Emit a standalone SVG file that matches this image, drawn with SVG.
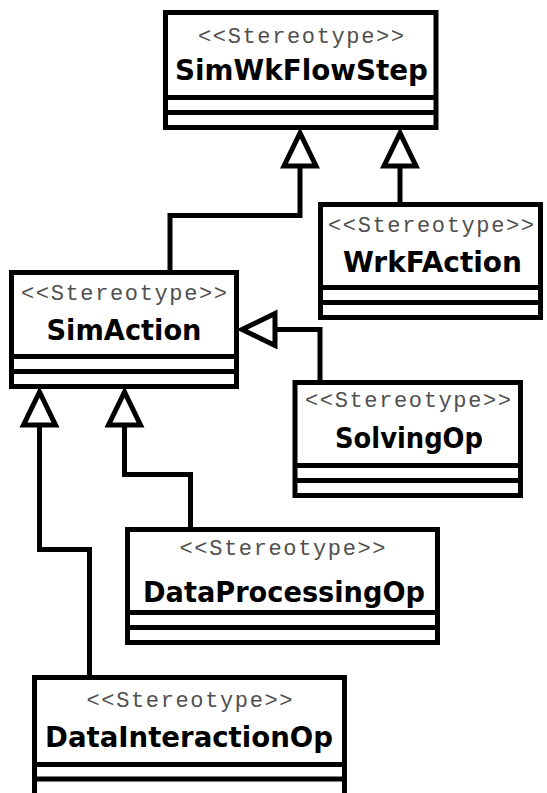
<svg xmlns="http://www.w3.org/2000/svg" xmlns:xlink="http://www.w3.org/1999/xlink" width="547" height="793" viewBox="0 0 547 793">
  <style>
    .box { fill: #ffffff; stroke: #000000; stroke-width: 5; }
    .sep { stroke: #000000; stroke-width: 5; }
    .stereo { font-family: "Liberation Mono", "DejaVu Sans Mono", monospace; font-size: 22px; fill: #505050; text-anchor: middle; }
    .name { font-family: "DejaVu Sans", "Liberation Sans", sans-serif; font-weight: bold; font-size: 29px; fill: #000000; text-anchor: middle; }
    .edge { fill: none; stroke: #000000; stroke-width: 5; stroke-linejoin: miter; }
    .head { fill: #ffffff; stroke: #000000; stroke-width: 5; stroke-linejoin: miter; }
  </style>
  <defs>
    <!-- hollow generalization head, tip at origin, pointing up -->
    <polygon id="gen" class="head" points="0,3 -16,36 16,36"/>
  </defs>

  <rect width="547" height="793" fill="#ffffff"/>

  <g id="connectors">
    <path class="edge" d="M170,272.5 V215.5 H300 V166"/>
    <path class="edge" d="M400,204.5 V166"/>
    <path class="edge" d="M320,382.5 V329.5 H275"/>
    <path class="edge" d="M190.5,529.5 V474.5 H124.5 V425"/>
    <path class="edge" d="M89.5,677.5 V549.5 H39.5 V425"/>
    <use xlink:href="#gen" transform="translate(300,130)"/>
    <use xlink:href="#gen" transform="translate(400,130)"/>
    <use xlink:href="#gen" transform="translate(239,329.5) rotate(-90)"/>
    <use xlink:href="#gen" transform="translate(39.5,389)"/>
    <use xlink:href="#gen" transform="translate(124.5,389)"/>
  </g>

  <g id="SimWkFlowStep">
    <rect class="box" x="165.5" y="12.5" width="270.5" height="115"/>
    <line class="sep" x1="165.5" y1="97.5" x2="436" y2="97.5"/>
    <line class="sep" x1="165.5" y1="112.5" x2="436" y2="112.5"/>
    <text class="stereo" x="301" y="43" textLength="206" lengthAdjust="spacing">&lt;&lt;Stereotype&gt;&gt;</text>
    <text class="name" x="301.5" y="80" textLength="253" lengthAdjust="spacingAndGlyphs">SimWkFlowStep</text>
  </g>

  <g id="WrkFAction">
    <rect class="box" x="320.5" y="204.5" width="220" height="113"/>
    <line class="sep" x1="320.5" y1="287.5" x2="540.5" y2="287.5"/>
    <line class="sep" x1="320.5" y1="302.5" x2="540.5" y2="302.5"/>
    <text class="stereo" x="431" y="231.5" textLength="206" lengthAdjust="spacing">&lt;&lt;Stereotype&gt;&gt;</text>
    <text class="name" x="432.5" y="272" textLength="179" lengthAdjust="spacingAndGlyphs">WrkFAction</text>
  </g>

  <g id="SimAction">
    <rect class="box" x="11.5" y="272.5" width="225" height="114"/>
    <line class="sep" x1="11.5" y1="356.5" x2="236.5" y2="356.5"/>
    <line class="sep" x1="11.5" y1="371.5" x2="236.5" y2="371.5"/>
    <text class="stereo" x="124" y="300" textLength="206" lengthAdjust="spacing">&lt;&lt;Stereotype&gt;&gt;</text>
    <text class="name" x="124" y="340" textLength="155" lengthAdjust="spacingAndGlyphs">SimAction</text>
  </g>

  <g id="SolvingOp">
    <rect class="box" x="295" y="382.5" width="225.5" height="113"/>
    <line class="sep" x1="295" y1="465.5" x2="520.5" y2="465.5"/>
    <line class="sep" x1="295" y1="480.5" x2="520.5" y2="480.5"/>
    <text class="stereo" x="408" y="406.5" textLength="206" lengthAdjust="spacing">&lt;&lt;Stereotype&gt;&gt;</text>
    <text class="name" x="409" y="448" textLength="148" lengthAdjust="spacingAndGlyphs">SolvingOp</text>
  </g>

  <g id="DataProcessingOp">
    <rect class="box" x="127.5" y="529.5" width="310" height="113"/>
    <line class="sep" x1="127.5" y1="612.5" x2="437.5" y2="612.5"/>
    <line class="sep" x1="127.5" y1="627.5" x2="437.5" y2="627.5"/>
    <text class="stereo" x="282.5" y="555" textLength="206" lengthAdjust="spacing">&lt;&lt;Stereotype&gt;&gt;</text>
    <text class="name" x="284" y="601.5" textLength="282" lengthAdjust="spacingAndGlyphs">DataProcessingOp</text>
  </g>

  <g id="DataInteractionOp">
    <rect class="box" x="34.5" y="677.5" width="310" height="119"/>
    <line class="sep" x1="34.5" y1="764.5" x2="344.5" y2="764.5"/>
    <line class="sep" x1="34.5" y1="779" x2="344.5" y2="779"/>
    <text class="stereo" x="189.5" y="706.5" textLength="206" lengthAdjust="spacing">&lt;&lt;Stereotype&gt;&gt;</text>
    <text class="name" x="189" y="746.5" textLength="288" lengthAdjust="spacingAndGlyphs">DataInteractionOp</text>
  </g>
</svg>
